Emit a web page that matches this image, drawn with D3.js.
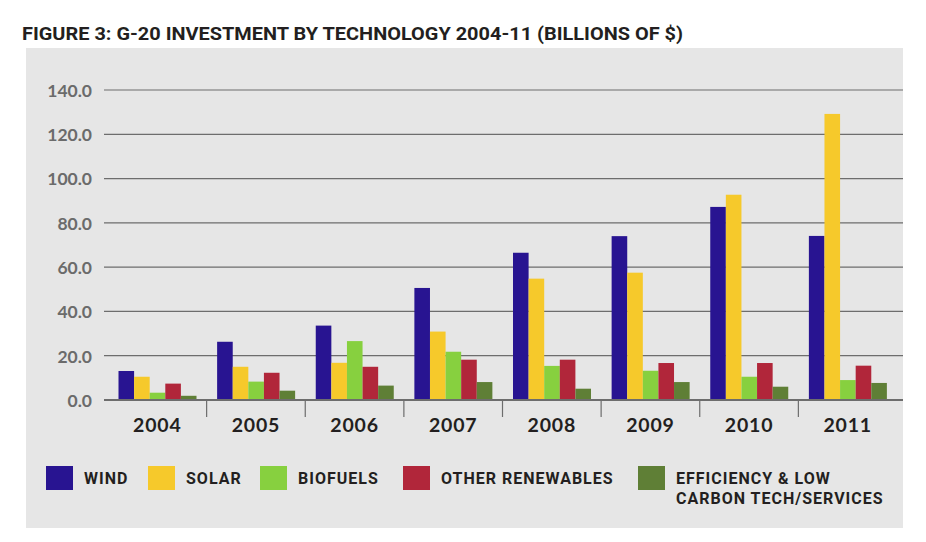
<!DOCTYPE html>
<html>
<head>
<meta charset="utf-8">
<script src="https://cdn.jsdelivr.net/npm/d3@7"></script>
<style>
  html, body { margin: 0; padding: 0; background: #fff; }
  svg { display: block; }
</style>
</head>
<body>
<svg id="chart" width="926" height="542"></svg>
<script>
const years = ["2004", "2005", "2006", "2007", "2008", "2009", "2010", "2011"];
const seriesNames = ["WIND", "SOLAR", "BIOFUELS", "OTHER RENEWABLES", "EFFICIENCY & LOW CARBON TECH/SERVICES"];
const wind = [13.1, 26.3, 33.6, 50.6, 66.5, 74.0, 87.2, 74.1];
const solar = [10.5, 15.0, 16.8, 30.9, 54.8, 57.5, 92.7, 129.2];
const biofuels = [3.3, 8.3, 26.6, 21.8, 15.4, 13.2, 10.5, 9.0];
const otherRenewables = [7.4, 12.3, 15.0, 18.2, 18.2, 16.7, 16.7, 15.5];
const efficiency = [1.9, 4.2, 6.5, 8.1, 5.1, 8.1, 6.0, 7.7];
const yTicks = [0, 20, 40, 60, 80, 100, 120, 140];
const colors = ["#281491", "#f6c92b", "#87d03f", "#b1263a", "#5f7f36"];

const seriesValues = [wind, solar, biofuels, otherRenewables, efficiency];

const svg = d3.select("#chart");

// panel background
svg.append("rect").attr("x", 26).attr("y", 48).attr("width", 877).attr("height", 480).attr("fill", "#e6e6e6");

// title
svg.append("text")
  .attr("x", 22).attr("y", 40)
  .attr("font-family", "Roboto, 'DejaVu Sans', sans-serif")
  .attr("font-weight", "bold")
  .attr("font-size", 18)
  .attr("fill", "#231f20")
  .attr("textLength", 661)
  .attr("lengthAdjust", "spacingAndGlyphs")
  .text("FIGURE 3:  G-20 INVESTMENT BY TECHNOLOGY 2004-11 (BILLIONS OF $)");

const y = d3.scaleLinear().domain([0, 140]).range([400, 90]);
const x0 = d3.scaleBand().domain(years).range([108, 897]).padding(0);
const x1 = d3.scaleBand().domain(d3.range(seriesNames.length)).range([10.5, 88.5]).padding(0);

// gridlines
svg.append("g").selectAll("line").data(yTicks.filter(t => t > 0)).join("line")
  .attr("x1", 104).attr("x2", 903)
  .attr("y1", d => y(d)).attr("y2", d => y(d))
  .attr("stroke", "#6d6d6d").attr("stroke-width", 1.2);

// y axis labels
const yAxis = d3.axisLeft(y).tickValues(yTicks).tickFormat(d3.format(".1f")).tickSize(0).tickPadding(0);
const gy = svg.append("g").attr("transform", "translate(92,0)").call(yAxis);
gy.select(".domain").remove();
gy.selectAll("text")
  .attr("font-family", "Lato, 'Open Sans', sans-serif")
  .attr("font-weight", "bold")
  .attr("font-size", 17.5)
  .attr("fill", "#6b6b6b")
  .attr("dy", "0.36em");

// bars
const groups = svg.append("g").selectAll("g").data(years).join("g")
  .attr("transform", d => `translate(${x0(d)},0)`);
groups.selectAll("rect")
  .data((d, i) => seriesValues.map((s, k) => ({ k, v: s[i] })))
  .join("rect")
  .attr("x", d => x1(d.k))
  .attr("width", x1.bandwidth())
  .attr("y", d => y(d.v))
  .attr("height", d => y(0) - y(d.v))
  .attr("fill", d => colors[d.k]);

// x axis
const xAxis = d3.axisBottom(x0).tickSize(0).tickPadding(0);
const gx = svg.append("g").attr("transform", "translate(0,400)").call(xAxis);
gx.select(".domain").remove();
gx.selectAll("text")
  .attr("font-family", "Lato, 'Open Sans', sans-serif")
  .attr("font-weight", "bold")
  .attr("font-size", 19.5)
  .attr("letter-spacing", 0.8)
  .attr("fill", "#231f20")
  .attr("dy", "1.62em");
// separators between categories
svg.append("g").selectAll("line").data(years.slice(1)).join("line")
  .attr("x1", d => x0(d)).attr("x2", d => x0(d))
  .attr("y1", 400).attr("y2", 417)
  .attr("stroke", "#6d6d6d").attr("stroke-width", 1.2);
// baseline
svg.append("line").attr("x1", 104).attr("x2", 903).attr("y1", y(0)).attr("y2", y(0))
  .attr("stroke", "#6d6d6d").attr("stroke-width", 2);

// legend
const legendX = [46, 148, 260, 403, 638];
const legend = svg.append("g").selectAll("g").data(seriesNames).join("g")
  .attr("transform", (d, i) => `translate(${legendX[i]},466)`);
legend.append("rect").attr("width", 27).attr("height", 24).attr("fill", (d, i) => colors[i]);
const lt = legend.append("text")
  .attr("x", 38).attr("y", 18)
  .attr("font-family", "Roboto, 'DejaVu Sans', sans-serif")
  .attr("font-weight", "bold")
  .attr("font-size", 16)
  .attr("letter-spacing", 1)
  .attr("fill", "#231f20");
lt.each(function(d, i) {
  const t = d3.select(this);
  if (i === 4) {
    t.append("tspan").attr("x", 38).attr("dy", 0).text("EFFICIENCY & LOW");
    t.append("tspan").attr("x", 38).attr("dy", 20).text("CARBON TECH/SERVICES");
  } else {
    t.text(d);
  }
});
</script>
</body>
</html>
